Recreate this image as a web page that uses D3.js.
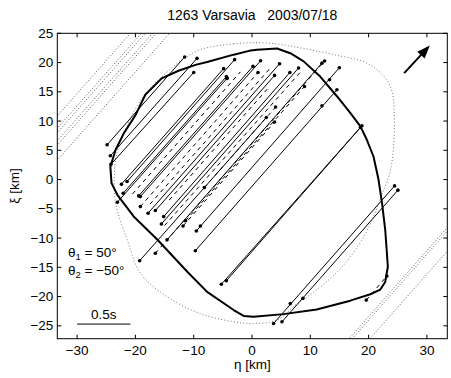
<!DOCTYPE html>
<html><head><meta charset="utf-8">
<script src="https://cdn.jsdelivr.net/npm/d3@7"></script>
<style>
html,body{margin:0;padding:0;background:#fff;}
text{font-family:"Liberation Sans",Arial,Helvetica,sans-serif;white-space:pre;}
</style></head>
<body>
<svg id="c" width="451" height="378"></svg>
<script>
// ---- data (km) ----
const title = "1263 Varsavia   2003/07/18";
const xTicks = [-30,-20,-10,0,10,20,30];
const yTicks = [-25,-20,-15,-10,-5,0,5,10,15,20,25];

// observed chords: start (eta, xi) -> end (eta, xi), style
const chordEta1 = [-24.86,-24.3,-24.2,-21.43,-22.4,-22.1,-23.1,-19.44,-19.15,-19.15,-17.83,-16.58,-15.15,-15.55,-14.57,-16.58,-19.27,-8.18,-11.83,-11.4,-14.2,-9.55,-9.72,-5.26,-4.4,3.7,5.14,19.6,-20.5,-17.5,-15.0];
const chordXi1  = [5.94,4.06,2.6,-0.34,-0.79,-2.33,-3.87,-2.79,-2.91,-4.62,-5.75,-5.3,-6.33,-7.59,-10.3,-12.6,-13.87,-1.37,-7.93,-7.05,-3.5,-8.78,-12.16,-17.9,-17.3,-24.6,-24.3,-20.6,-2.46,-4.2,-7.86];
const chordEta2 = [-11.55,-9.43,-10.0,-2.98,-4.87,-4.4,-4.29,0.17,1.47,1.03,4.73,3.87,6.5,7.99,12.0,12.45,2.45,4.05,3.87,9.0,3.0,14.97,14.57,18.86,18.6,24.45,25.03,23.14,-2.0,3.0,8.5];
const chordXi2  = [20.96,20.72,18.3,20.5,18.96,17.6,17.3,19.35,20.3,18.3,19.8,17.8,18.3,19.07,19.9,20.27,10.6,12.4,9.83,15.9,15.9,19.1,15.36,9.2,8.9,-1.08,-1.81,-16.5,18.4,18.9,18.6];
const chordStyle = ["s","s","s","s","s","s","s","s","s","d","s","s","s","s","s","d","s","d","d","d","d","s","s","s","s","s","s","d","d","d","d"];
const chordDots  = [1,1,1,1,1,1,1,1,1,1,1,1,1,1,1,1,1,1,1,1,0,1,1,1,1,1,1,1,0,0,0];

// extra timing dots on chords
const dotEta = [-8.86,12.0,13.3,6.57,8.74,-4.29];
const dotXi  = [-7.93,12.6,17.07,-21.2,-20.3,17.3];

// negative (miss) chords, dotted
const missEta1 = [-40,-40,-40,-40,-40,-40,10,10,10];
const missXi1  = [-4.1,-1.54,-0.78,0.57,1.33,3.43,-34.7,-35.3,-38.7];
const missEta2 = [-5,-5,-5,-5,-5,-5,45,45,45];
const missXi2  = [35.3,37.9,38.6,40.0,40.75,42.9,4.76,4.16,0.69];

// shape model outline (thick)
const shapeEta = [-0.5,0.86,4.3,6.57,8.85,11.7,14.6,16.85,18.6,19.7,20.85,21.7,22.3,22.85,23.1,23.3,22.85,22.0,20.3,16.85,11.1,5.4,0.27,-1.44,-3.15,-7.7,-11.1,-16.3,-20.3,-23.1,-24.1,-24.3,-23.4,-22.0,-20.0,-18.3,-15.5,-12.6,-9.7,-7.7,-3.15];
const shapeXi  = [22.0,22.2,22.4,21.6,20.2,17.6,14.2,11.4,9.1,6.8,3.9,0,-4.0,-8.6,-12.0,-14.9,-17.5,-18.8,-19.6,-20.7,-22.2,-23.0,-23.45,-23.3,-22.3,-19.2,-15.75,-10.2,-6.3,-2.6,-0.6,2.2,5.1,7.9,11.0,14.5,17.3,18.6,19.6,20.1,21.35];

// second outline (dotted)
const dotOutEta = [-8.9,-3.15,2.57,8.3,14.0,19.7,22.85,24.0,24.4,24.3,23.7,22.3,20.6,18.86,16.0,13.1,10.3,7.4,4.3,0.27,-3.15,-8.9,-14.6,-19.15,-21.4,-23.4,-23.6,-23.2,-21.5,-18.8,-15.0,-11.5];
const dotOutXi  = [22.2,23.2,23.35,22.5,21.35,19.9,17.4,15.1,11.6,5.9,1.4,-2.5,-6.9,-10.3,-14.3,-17.2,-19.45,-21.5,-24.0,-24.6,-24.3,-22.9,-20.0,-16.0,-10.3,-4.0,1.0,4.5,9.0,14.0,18.0,20.8];

const arrowEta = [26.1,30.5];
const arrowXi  = [18.2,22.9];
const scaleBarEta = [-30,-20.85];
const scaleBarXi = -24.7;
const scaleBarLabel = "0.5s";
const thetaLabels = [["1","50°"],["2","−50°"]];

// ---- drawing ----
const svg = d3.select("#c");
const L=57.3, R=447.3, T=33.3, B=338.7;
const FS = 13.5;
const x = d3.scaleLinear().domain([-33.4,33.5]).range([L,R]);
const y = d3.scaleLinear().domain([-27.2,25]).range([B,T]);

svg.append("clipPath").attr("id","clip").append("rect")
  .attr("x",L).attr("y",T).attr("width",R-L).attr("height",B-T);
const g = svg.append("g").attr("clip-path","url(#clip)");

// miss chords
g.selectAll(".miss").data(missEta1.map((d,i)=>i)).enter().append("line")
  .attr("x1",i=>x(missEta1[i])).attr("y1",i=>y(missXi1[i]))
  .attr("x2",i=>x(missEta2[i])).attr("y2",i=>y(missXi2[i]))
  .attr("stroke","#555").attr("stroke-width",1).attr("stroke-dasharray","1,2");

// dotted outline
const lineGen = d3.line().curve(d3.curveCatmullRomClosed.alpha(0.5));
g.append("path").attr("d", lineGen(dotOutEta.map((d,i)=>[x(d),y(dotOutXi[i])])))
  .attr("fill","none").attr("stroke","#777").attr("stroke-width",1).attr("stroke-dasharray","1,2.2");

// chords
g.selectAll(".ch").data(chordEta1.map((d,i)=>i)).enter().append("line")
  .attr("x1",i=>x(chordEta1[i])).attr("y1",i=>y(chordXi1[i]))
  .attr("x2",i=>x(chordEta2[i])).attr("y2",i=>y(chordXi2[i]))
  .attr("stroke","#000").attr("stroke-width",1)
  .attr("stroke-dasharray",i=>chordStyle[i]==="d"?"4,4":null);

// shape outline
const shapeGen = d3.line().curve(d3.curveLinearClosed);
g.append("path").attr("d", shapeGen(shapeEta.map((d,i)=>[x(d),y(shapeXi[i])])))
  .attr("fill","none").attr("stroke","#000").attr("stroke-width",2).attr("stroke-linejoin","round");

// endpoint dots
const pts = [];
chordEta1.forEach((d,i)=>{ if(chordDots[i]){pts.push([chordEta1[i],chordXi1[i]]);pts.push([chordEta2[i],chordXi2[i]]);} });
dotEta.forEach((d,i)=>pts.push([d,dotXi[i]]));
g.selectAll(".pt").data(pts).enter().append("circle")
  .attr("cx",d=>x(d[0])).attr("cy",d=>y(d[1])).attr("r",1.8).attr("fill","#000");

// arrow
const ax1=x(arrowEta[0]), ay1=y(arrowXi[0]), ax2=x(arrowEta[1]), ay2=y(arrowXi[1]);
const ang=Math.atan2(ay2-ay1, ax2-ax1), hl=13, hw=5;
svg.append("line").attr("x1",ax1).attr("y1",ay1)
  .attr("x2",ax2-Math.cos(ang)*hl*0.8).attr("y2",ay2-Math.sin(ang)*hl*0.8)
  .attr("stroke","#000").attr("stroke-width",2);
const bx=ax2-Math.cos(ang)*hl, by=ay2-Math.sin(ang)*hl;
svg.append("path").attr("d",`M${ax2},${ay2}L${bx-Math.sin(ang)*hw},${by+Math.cos(ang)*hw}L${bx+Math.sin(ang)*hw},${by-Math.cos(ang)*hw}Z`).attr("fill","#000");

// scale bar
svg.append("line").attr("x1",x(scaleBarEta[0])).attr("x2",x(scaleBarEta[1]))
  .attr("y1",y(scaleBarXi)).attr("y2",y(scaleBarXi)).attr("stroke","#000").attr("stroke-width",1);
svg.append("text").attr("x",(x(scaleBarEta[0])+x(scaleBarEta[1]))/2).attr("y",y(scaleBarXi)-5)
  .attr("text-anchor","middle").attr("font-size",FS).text(scaleBarLabel);

// theta labels
thetaLabels.forEach((t,i)=>{
  const tx = svg.append("text").attr("x",68).attr("y",257+i*18).attr("font-size",FS);
  tx.append("tspan").text("θ");
  tx.append("tspan").attr("font-size",9.5).attr("dy",3).text(t[0]);
  tx.append("tspan").attr("dy",-3).text(" = "+t[1]);
});

// axes box and ticks
svg.append("rect").attr("x",L).attr("y",T).attr("width",R-L).attr("height",B-T)
  .attr("fill","none").attr("stroke","#000").attr("stroke-width",1);
const tl=4;
xTicks.forEach(v=>{
  svg.append("line").attr("x1",x(v)).attr("x2",x(v)).attr("y1",B).attr("y2",B-tl).attr("stroke","#000");
  svg.append("line").attr("x1",x(v)).attr("x2",x(v)).attr("y1",T).attr("y2",T+tl).attr("stroke","#000");
  svg.append("text").attr("x",x(v)).attr("y",B+16).attr("text-anchor","middle").attr("font-size",FS)
    .text(v<0?"−"+Math.abs(v):v);
});
yTicks.forEach(v=>{
  svg.append("line").attr("x1",L).attr("x2",L+tl).attr("y1",y(v)).attr("y2",y(v)).attr("stroke","#000");
  svg.append("line").attr("x1",R).attr("x2",R-tl).attr("y1",y(v)).attr("y2",y(v)).attr("stroke","#000");
  svg.append("text").attr("x",L-4).attr("y",y(v)+4.5).attr("text-anchor","end").attr("font-size",FS)
    .text(v<0?"−"+Math.abs(v):v);
});

svg.append("text").attr("x",(L+R)/2).attr("y",20).attr("text-anchor","middle").attr("font-size",14).text(title);
svg.append("text").attr("x",(L+R)/2).attr("y",369).attr("text-anchor","middle").attr("font-size",FS).text("η [km]");
svg.append("text").attr("transform",`translate(19,${(T+B)/2}) rotate(-90)`).attr("text-anchor","middle").attr("font-size",FS).text("ξ [km]");
</script>
</body></html>
